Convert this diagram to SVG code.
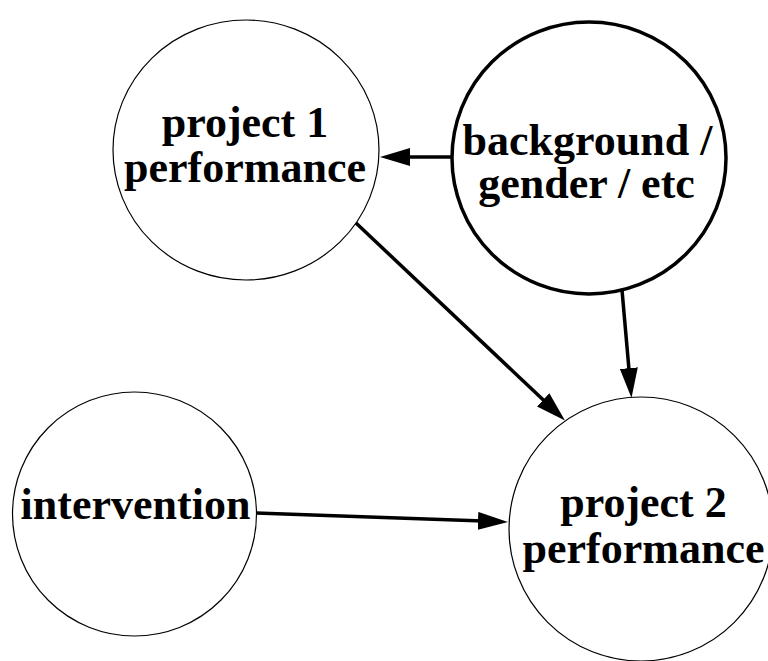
<svg xmlns="http://www.w3.org/2000/svg" width="768" height="661" viewBox="0 0 768 661">
  <style>
    .node { fill: #ffffff; stroke: #000000; stroke-width: 1.2; }
    .node.bold { stroke-width: 3.5; }
    .label { font-family: "Liberation Serif", "Times New Roman", serif; font-weight: bold; font-size: 44px; fill: #000000; text-anchor: middle; }
    .edge { stroke: #000000; stroke-width: 3.5; fill: none; marker-end: url(#arrow); }
  </style>
  <defs>
    <marker id="arrow" viewBox="0 0 30 18" refX="5" refY="9" markerWidth="30" markerHeight="18" markerUnits="userSpaceOnUse" orient="auto">
      <path d="M0,0 L30,9 L0,18 z" fill="#000000"/>
    </marker>
  </defs>
  <rect width="768" height="661" fill="#ffffff"/>

  <g id="connectors">
    <line class="edge" x1="452" y1="157" x2="405" y2="157"/>
    <line class="edge" x1="356" y1="223" x2="546.8" y2="403.3"/>
    <line class="edge" x1="622" y1="290" x2="629.3" y2="373.1"/>
    <line class="edge" x1="256" y1="513" x2="483" y2="521.1"/>
  </g>

  <g id="project1">
    <ellipse class="node" cx="246" cy="150" rx="133" ry="130"/>
    <text class="label" x="245" y="137">project 1</text>
    <text class="label" x="245" y="182">performance</text>
  </g>

  <g id="background">
    <ellipse class="node bold" cx="589" cy="158" rx="137" ry="136"/>
    <text class="label" x="587.5" y="155">background /</text>
    <text class="label" x="586.5" y="198">gender / etc</text>
  </g>

  <g id="intervention">
    <circle class="node" cx="134.5" cy="514" r="122"/>
    <text class="label" x="135.5" y="519">intervention</text>
  </g>

  <g id="project2">
    <circle class="node" cx="641" cy="529" r="132"/>
    <text class="label" x="643.5" y="517">project 2</text>
    <text class="label" x="643.5" y="563">performance</text>
  </g>
</svg>
